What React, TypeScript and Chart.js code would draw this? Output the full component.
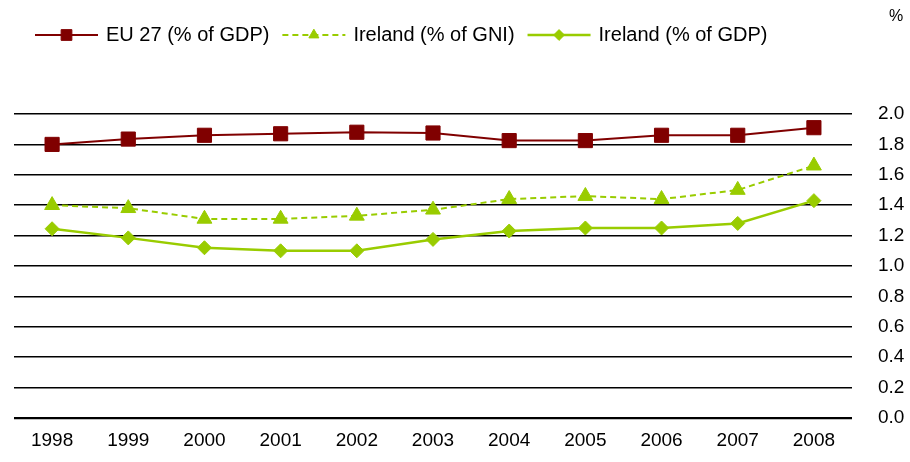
import React, { useEffect, useRef } from "react";
import { Chart, registerables } from "chart.js";

Chart.register(...registerables);

const years = ["1998", "1999", "2000", "2001", "2002", "2003", "2004", "2005", "2006", "2007", "2008"];
const eu27Gdp = [1.8, 1.835, 1.86, 1.87, 1.88, 1.875, 1.825, 1.825, 1.86, 1.86, 1.91];
const irelandGni = [1.4, 1.38, 1.31, 1.31, 1.33, 1.37, 1.44, 1.46, 1.44, 1.5, 1.66];
const irelandGdp = [1.245, 1.185, 1.12, 1.1, 1.1, 1.175, 1.23, 1.25, 1.25, 1.28, 1.43];
const seriesLabels = ["EU 27 (% of GDP)", "Ireland (% of GNI)", "Ireland (% of GDP)"];
const unitLabel = "%";

const RED = "#800000";
const GREEN = "#99cc00";
const FONT = '"Liberation Sans", Arial, sans-serif';

function drawMarker(ctx: CanvasRenderingContext2D, style: string, x: number, y: number, r: number, color: string) {
  ctx.save();
  ctx.setLineDash([]);
  ctx.fillStyle = color;
  ctx.strokeStyle = color;
  ctx.lineWidth = 1;
  ctx.beginPath();
  if (style === "rect") {
    const s = Math.SQRT1_2 * r;
    ctx.rect(x - s, y - s, 2 * s, 2 * s);
  } else if (style === "triangle") {
    ctx.moveTo(x, y - r);
    ctx.lineTo(x + Math.sin((2 * Math.PI) / 3) * r, y - Math.cos((2 * Math.PI) / 3) * r);
    ctx.lineTo(x + Math.sin((4 * Math.PI) / 3) * r, y - Math.cos((4 * Math.PI) / 3) * r);
    ctx.closePath();
  } else {
    ctx.moveTo(x, y - r);
    ctx.lineTo(x + r, y);
    ctx.lineTo(x, y + r);
    ctx.lineTo(x - r, y);
    ctx.closePath();
  }
  ctx.fill();
  ctx.stroke();
  ctx.restore();
}

const legendRadius: Record<string, number> = { rect: 7.6, triangle: 5.8, rectRot: 5.4 };

const lineLegendPlugin = {
  id: "lineLegend",
  afterDraw(chart: any) {
    const ctx: CanvasRenderingContext2D = chart.ctx;
    ctx.save();
    ctx.font = "20px " + FONT;
    ctx.textBaseline = "middle";
    ctx.textAlign = "left";
    let x = 35;
    const y = 35;
    const lineLen = 63;
    chart.data.datasets.forEach((ds: any) => {
      ctx.save();
      ctx.strokeStyle = ds.borderColor;
      ctx.lineWidth = ds.borderWidth;
      ctx.setLineDash(ds.borderDash || []);
      ctx.beginPath();
      ctx.moveTo(x, y);
      ctx.lineTo(x + lineLen, y);
      ctx.stroke();
      ctx.restore();
      drawMarker(ctx, ds.pointStyle, x + lineLen / 2, y, legendRadius[ds.pointStyle] || 5, ds.pointBackgroundColor);
      x += lineLen + 8;
      ctx.fillStyle = "#000";
      ctx.fillText(ds.label, x, y);
      x += ctx.measureText(ds.label).width + 13;
    });
    ctx.font = "16px " + FONT;
    ctx.textAlign = "center";
    ctx.fillText(unitLabel, 896, 17);
    ctx.restore();
  },
};

export default function App() {
  const ref = useRef<HTMLCanvasElement | null>(null);
  useEffect(() => {
    if (!ref.current) return;
    const chart = new Chart(ref.current, {
      type: "line",
      data: {
        labels: years,
        datasets: [
          {
            label: seriesLabels[0],
            data: eu27Gdp,
            borderColor: RED,
            backgroundColor: RED,
            pointBackgroundColor: RED,
            pointBorderColor: RED,
            borderWidth: 2,
            pointStyle: "rect",
            pointRadius: 10,
            pointBorderWidth: 1,
            tension: 0,
          },
          {
            label: seriesLabels[1],
            data: irelandGni,
            borderColor: GREEN,
            backgroundColor: GREEN,
            pointBackgroundColor: GREEN,
            pointBorderColor: GREEN,
            borderWidth: 2,
            borderDash: [6, 4],
            pointStyle: "triangle",
            pointRadius: 8.6,
            pointBorderWidth: 1,
            tension: 0,
          },
          {
            label: seriesLabels[2],
            data: irelandGdp,
            borderColor: GREEN,
            backgroundColor: GREEN,
            pointBackgroundColor: GREEN,
            pointBorderColor: GREEN,
            borderWidth: 2.5,
            pointStyle: "rectRot",
            pointRadius: 7,
            pointBorderWidth: 1,
            tension: 0,
          },
        ] as any,
      },
      options: {
        responsive: false,
        animation: false,
        layout: { padding: { top: 114, left: 14, right: 0, bottom: 0 } },
        plugins: {
          legend: { display: false },
          title: { display: false },
          tooltip: { enabled: false },
        },
        scales: {
          x: {
            offset: true,
            grid: { display: false, drawTicks: false },
            border: { display: false },
            ticks: { color: "#000", font: { family: FONT, size: 19 }, padding: 11, maxRotation: 0 },
            afterFit: (scale: any) => {
              scale.height = 44;
            },
          },
          y: {
            position: "right",
            min: 0,
            max: 2,
            grid: {
              color: "#000",
              lineWidth: (c: any) => (c.tick && c.tick.value === 0 ? 2.2 : 1.5),
              drawTicks: false,
            },
            border: { display: false },
            ticks: {
              stepSize: 0.2,
              color: "#000",
              padding: 26,
              font: { family: FONT, size: 19 },
              callback: (v: any) => Number(v).toFixed(1),
            },
            afterFit: (scale: any) => {
              scale.width = 58;
            },
          },
        },
      } as any,
      plugins: [lineLegendPlugin],
    });
    return () => chart.destroy();
  }, []);
  return (
    <div style={{ position: "fixed", left: 0, top: 0, width: 910, height: 462, background: "#fff" }}>
      <canvas ref={ref} width={910} height={462} style={{ display: "block" }} />
    </div>
  );
}
